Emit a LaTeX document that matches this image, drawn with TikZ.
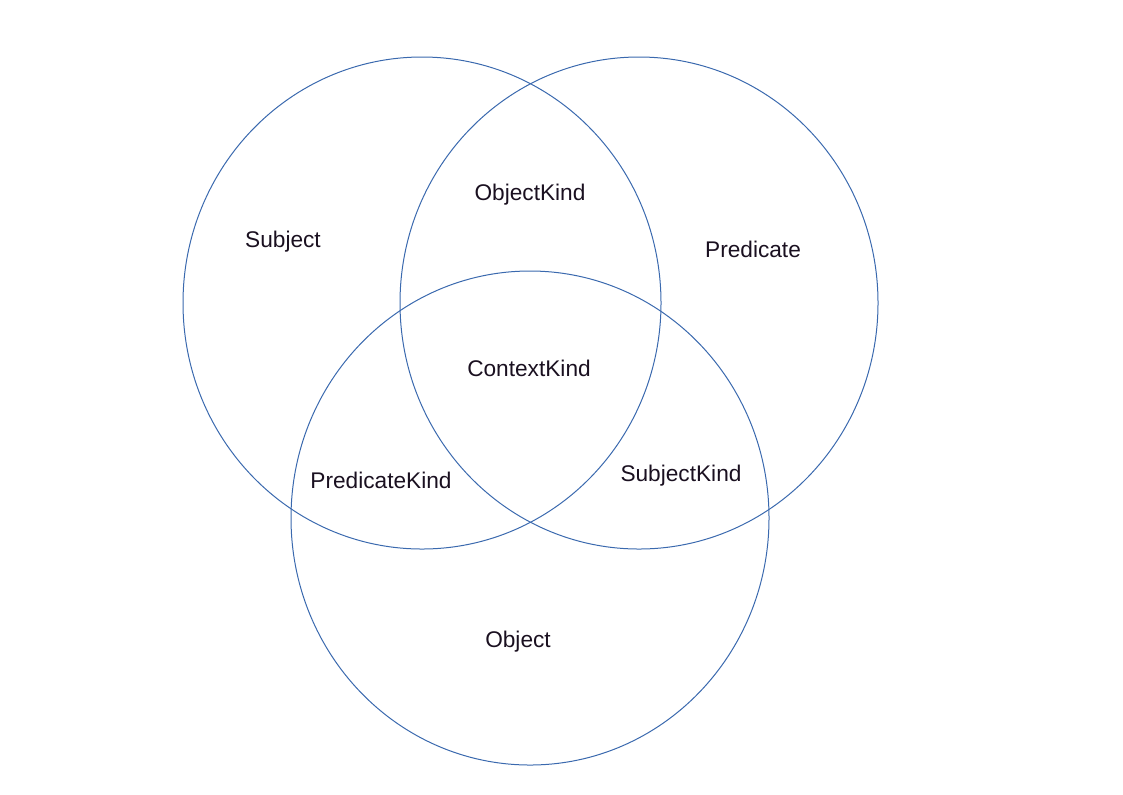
\documentclass[tikz,border=0pt]{standalone}
\usepackage{fontspec}
\setmainfont{Liberation Sans}
\usepackage{tikz}
\usetikzlibrary{positioning}

\definecolor{setblue}{HTML}{3A69AE}
\definecolor{labeltext}{HTML}{1A1020}

\begin{document}
\begin{tikzpicture}[
        x=0.75pt, y=-0.75pt,
        set_ring/.style={draw=setblue, line width=0.75pt},
        set_label/.style={text=labeltext, font=\fontsize{17}{20}\selectfont, inner sep=0pt}
    ]
        \useasboundingbox (0,0) rectangle (1123,794);

        % --- SETS ---
        \draw[set_ring] (422,303) ellipse [x radius=239, y radius=246];
        \draw[set_ring] (639,303) ellipse [x radius=239, y radius=246];
        \draw[set_ring] (530,518) ellipse [x radius=239, y radius=247];

        % --- LABELS ---
        \node[set_label] (subject) at (283,242) {Subject};
        \node[set_label] (predicate) at (753,249) {Predicate};
        \node[set_label] (object) at (518,642) {Object};
        \node[set_label] (objectkind) at (530,195) {ObjectKind};
        \node[set_label] (contextkind) at (529,368) {ContextKind};
        \node[set_label] (predicatekind) at (381,480) {PredicateKind};
        \node[set_label] (subjectkind) at (681,476) {SubjectKind};

    \end{tikzpicture}
\end{document}
